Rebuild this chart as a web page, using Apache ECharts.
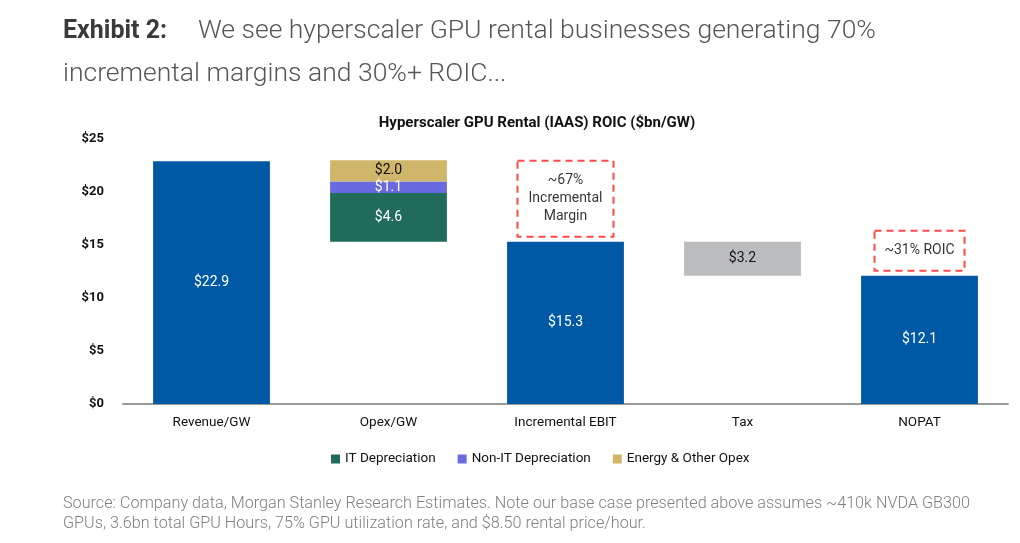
<!DOCTYPE html>
<html>
<head>
<meta charset="utf-8">
<script src="https://cdn.jsdelivr.net/npm/echarts@6/dist/echarts.min.js"></script>
<style>
  html, body { margin: 0; padding: 0; background: #fff; }
  #main { width: 1020px; height: 543px; }
</style>
</head>
<body>
<div id="main"></div>
<script>
var categories = ['Revenue/GW', 'Opex/GW', 'Incremental EBIT', 'Tax', 'NOPAT'];
var baseValues = [0, 15.3, 0, 12.1, 0];
var mainValues = [22.9, '-', 15.3, '-', 12.1];
var itDepreciation = ['-', 4.6, '-', '-', '-'];
var nonItDepreciation = ['-', 1.1, '-', '-', '-'];
var energyOpex = ['-', 2.0, '-', '-', '-'];
var taxValues = ['-', '-', '-', 3.2, '-'];
var yTicks = [0, 5, 10, 15, 20, 25];
var notes = [
    { at: 2, value: 15.3, text: '~67%\nIncremental\nMargin', width: 80 },
    { at: 4, value: 12.1, text: '~31% ROIC', width: 74 }
];

var font = 'Roboto, "Liberation Sans", sans-serif';
var money = function (p) { return '$' + Number(p.value).toFixed(1); };

var myChart = echarts.init(document.getElementById('main'));

function barSeries(name, data, color, labelColor) {
    return {
        name: name,
        type: 'bar',
        stack: 'all',
        barWidth: '66%',
        data: data,
        itemStyle: { color: color },
        label: {
            show: true,
            position: 'inside',
            formatter: money,
            color: labelColor,
            fontFamily: font,
            fontSize: 14
        },
        emphasis: { disabled: true }
    };
}

var option = {
    animation: false,
    textStyle: { fontFamily: font },
    graphic: [
        {
            type: 'text', left: 63, top: 19,
            style: { text: 'Exhibit 2:', font: 'bold 25px ' + font, fill: '#3a3a3a' }
        },
        {
            type: 'text', left: 198, top: 18,
            style: { text: 'We see hyperscaler GPU rental businesses generating 70%', font: '300 26.5px ' + font, fill: '#555' }
        },
        {
            type: 'text', left: 63, top: 61,
            style: { text: 'incremental margins and 30%+ ROIC...', font: '300 26.5px ' + font, fill: '#555' }
        },
        {
            type: 'text', x: 537, y: 116,
            style: { text: 'Hyperscaler GPU Rental (IAAS) ROIC ($bn/GW)', font: 'bold 15px ' + font, fill: '#111', align: 'center', verticalAlign: 'top' }
        },
        {
            type: 'text', left: 63, top: 494,
            style: {
                text: 'Source: Company data, Morgan Stanley Research Estimates. Note our base case presented above assumes ~410k NVDA GB300\nGPUs, 3.6bn total GPU Hours, 75% GPU utilization rate, and $8.50 rental price/hour.',
                font: '300 16.2px ' + font, fill: '#808080', lineHeight: 20
            }
        }
    ],
    legend: {
        data: ['IT Depreciation', 'Non-IT Depreciation', 'Energy & Other Opex'],
        left: 326,
        top: 447,
        itemWidth: 9,
        itemHeight: 9,
        itemGap: 22,
        icon: 'rect',
        textStyle: { fontSize: 13.5, color: '#111', fontFamily: font }
    },
    grid: { left: 123, right: 12, top: 139, bottom: 139 },
    xAxis: {
        type: 'category',
        data: categories,
        axisLine: { lineStyle: { color: '#9a9a9a', width: 2 } },
        axisTick: { show: false },
        axisLabel: { color: '#111', fontSize: 13.5, margin: 12, fontFamily: font }
    },
    yAxis: {
        type: 'value',
        min: yTicks[0],
        max: yTicks[yTicks.length - 1],
        interval: yTicks[1] - yTicks[0],
        splitLine: { show: false },
        axisLine: { show: false },
        axisTick: { show: false },
        axisLabel: {
            color: '#111', fontSize: 13, fontWeight: 'bold', margin: 19, fontFamily: font,
            formatter: function (v) { return '$' + v; }
        }
    },
    series: [
        {
            name: 'base',
            type: 'bar',
            stack: 'all',
            barWidth: '66%',
            data: baseValues,
            itemStyle: { color: 'transparent' },
            emphasis: { disabled: true }
        },
        barSeries('Value', mainValues, '#0059A4', '#fff'),
        barSeries('IT Depreciation', itDepreciation, '#216B5B', '#fff'),
        barSeries('Non-IT Depreciation', nonItDepreciation, '#6969E0', '#fff'),
        barSeries('Energy & Other Opex', energyOpex, '#CFB66A', '#111'),
        barSeries('Tax', taxValues, '#BBBCBE', '#111'),
        {
            name: 'notes',
            type: 'scatter',
            symbolSize: 0,
            data: notes.map(function (n) { return { value: [n.at, n.value], text: n.text, label: { width: n.width } }; }),
            label: {
                show: true,
                position: 'top',
                distance: 5,
                formatter: function (p) { return p.data.text; },
                color: '#000',
                fontFamily: font,
                fontSize: 14,
                lineHeight: 18,
                align: 'center',
                borderColor: '#FF1A1A',
                borderWidth: 2,
                borderType: [7, 5],
                padding: [11, 8]
            },
            emphasis: { disabled: true }
        }
    ]
};
myChart.setOption(option);
</script>
</body>
</html>
